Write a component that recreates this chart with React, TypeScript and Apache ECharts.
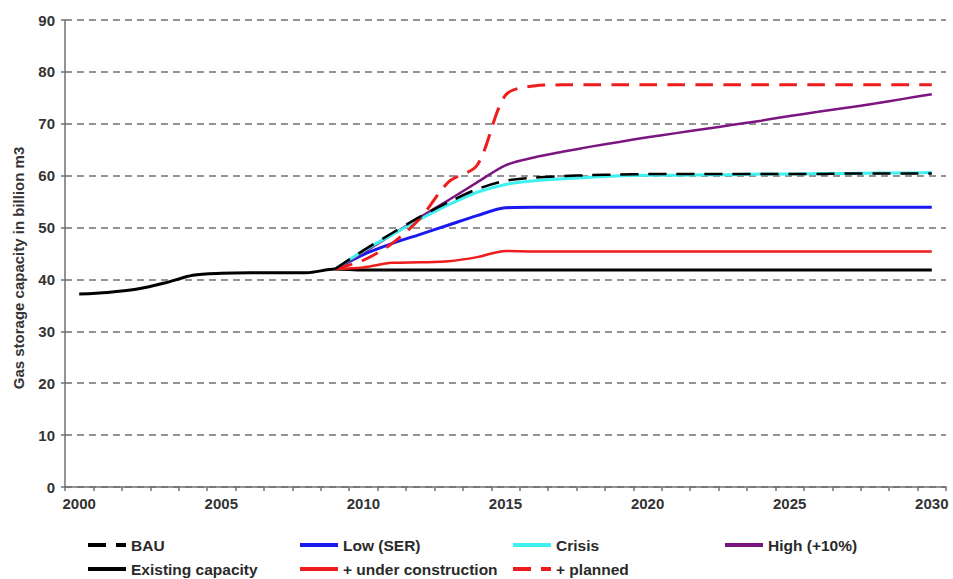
import React, { useEffect, useRef } from "react";
import * as echarts from "echarts";

const years: string[] = [];
for (let y = 2000; y <= 2030; y++) years.push(String(y));

const nullsTo2008 = [null, null, null, null, null, null, null, null, null];

const existing = [37.2, 37.5, 38.1, 39.3, 40.8, 41.2, 41.3, 41.3, 41.3, 42.0,
  41.8, 41.8, 41.8, 41.8, 41.8, 41.8, 41.8, 41.8, 41.8, 41.8,
  41.8, 41.8, 41.8, 41.8, 41.8, 41.8, 41.8, 41.8, 41.8, 41.8, 41.8];

const bau = [...nullsTo2008, 42.0,
  45.6, 48.9, 52.1, 54.9, 57.4, 59.0, 59.6, 59.9, 60.1, 60.2,
  60.3, 60.3, 60.3, 60.3, 60.3, 60.3, 60.3, 60.4, 60.4, 60.4, 60.4];

const low = [...nullsTo2008, 42.0,
  44.8, 46.9, 48.7, 50.5, 52.3, 53.8, 53.9, 53.9, 53.9, 53.9,
  53.9, 53.9, 53.9, 53.9, 53.9, 53.9, 53.9, 53.9, 53.9, 53.9, 53.9];

const crisis = [...nullsTo2008, 42.0,
  45.5, 48.6, 51.6, 54.4, 56.8, 58.3, 59.0, 59.4, 59.7, 60.0,
  60.1, 60.1, 60.2, 60.2, 60.3, 60.3, 60.4, 60.4, 60.5, 60.5, 60.6];

const high = [...nullsTo2008, 42.0,
  45.2, 48.6, 52.0, 55.3, 58.7, 62.0, 63.5, 64.6, 65.6, 66.5,
  67.4, 68.2, 69.0, 69.8, 70.6, 71.5, 72.3, 73.1, 73.9, 74.8, 75.7];

const underConstruction = [...nullsTo2008, 42.0,
  42.3, 43.2, 43.3, 43.5, 44.3, 45.5, 45.4, 45.4, 45.4, 45.4,
  45.4, 45.4, 45.4, 45.4, 45.4, 45.4, 45.4, 45.4, 45.4, 45.4, 45.4];

const planned = [...nullsTo2008, 42.0,
  43.7, 46.9, 51.8, 58.8, 62.0, 75.5, 77.3, 77.5, 77.5, 77.5,
  77.5, 77.5, 77.5, 77.5, 77.5, 77.5, 77.5, 77.5, 77.5, 77.5, 77.5];

const yTicks = [0, 10, 20, 30, 40, 50, 60, 70, 80, 90];

const FONT = "Liberation Sans, Arial, sans-serif";

export default function App() {
  const ref = useRef<HTMLDivElement>(null);
  useEffect(() => {
    if (!ref.current) return;
    document.body.style.margin = "0";
    const chart = echarts.init(ref.current, undefined, { renderer: "svg" });
    const mk = (name: string, data: (number | null)[], color: string, width: number, type: any = "solid", z = 2) => ({
      name,
      type: "line",
      data,
      symbol: "none",
      smooth: 0.3,
      z,
      lineStyle: { color, width, type },
      itemStyle: { color },
    });
    const legendPos: [string, number, number][] = [
      ["BAU", 86, 537],
      ["Low (SER)", 298, 537],
      ["Crisis", 511, 537],
      ["High (+10%)", 723, 537],
      ["Existing capacity", 86, 561],
      ["+ under construction", 298, 561],
      ["+ planned", 511, 561],
    ];
    chart.setOption({
      animation: false,
      backgroundColor: "#ffffff",
      textStyle: { fontFamily: FONT },
      grid: { left: 65, right: 7, top: 20, bottom: 92, containLabel: false },
      legend: legendPos.map(([n, l, t]) => ({
        data: [n],
        left: l,
        top: t,
        padding: 0,
        itemWidth: 38,
        itemHeight: 14,
        itemGap: 5,
        itemStyle: { opacity: 0 },
        lineStyle: { width: 4 },
        textStyle: { fontFamily: FONT, fontSize: 15.5, fontWeight: "bold", color: "#2a2a2a" },
      })),
      xAxis: {
        type: "category",
        data: years,
        boundaryGap: true,
        axisLine: { lineStyle: { color: "#707070", width: 1.5 } },
        axisTick: { show: true, interval: 0, length: 4, lineStyle: { color: "#707070", width: 1.5 } },
        axisLabel: {
          interval: 4,
          fontFamily: FONT,
          fontSize: 15,
          fontWeight: "bold",
          color: "#333",
          margin: 9,
        },
        splitLine: { show: false },
      },
      yAxis: {
        type: "value",
        min: yTicks[0],
        max: yTicks[yTicks.length - 1],
        interval: 10,
        axisLine: { show: true, lineStyle: { color: "#707070", width: 1.5 } },
        axisTick: { show: true, length: 4, lineStyle: { color: "#707070", width: 1.5 } },
        axisLabel: { fontFamily: FONT, fontSize: 15, fontWeight: "bold", color: "#333", margin: 10 },
        splitLine: { show: true, lineStyle: { color: "#707070", width: 1.5, type: [7, 5] } },
      },
      graphic: [
        {
          type: "text",
          x: 18,
          y: 268,
          rotation: Math.PI / 2,
          style: {
            text: "Gas storage capacity in billion m3",
            fontFamily: FONT,
            fontSize: 15,
            fontWeight: "bold",
            fill: "#333",
            textAlign: "center",
            textVerticalAlign: "middle",
          },
        },
      ],
      series: [
        mk("BAU", bau, "#000000", 2.5, [18, 10], 6),
        mk("Low (SER)", low, "#1a1aee", 3),
        mk("Crisis", crisis, "#3ef0f0", 3, "solid", 4),
        mk("High (+10%)", high, "#7b1580", 2.5),
        mk("Existing capacity", existing, "#000000", 3),
        mk("+ under construction", underConstruction, "#ee1c1c", 2.5),
        mk("+ planned", planned, "#ee1c1c", 3, [18, 10], 5),
      ],
    });
    return () => chart.dispose();
  }, []);
  return <div ref={ref} style={{ width: 953, height: 579 }} />;
}
